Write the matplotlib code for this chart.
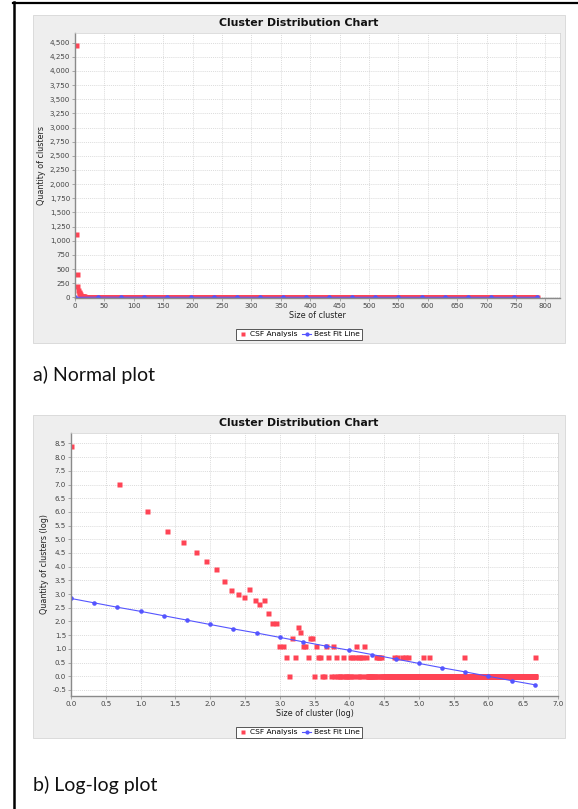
import numpy as np
import matplotlib
matplotlib.use('Agg')
import matplotlib.pyplot as plt
from matplotlib.patches import Rectangle
from matplotlib.lines import Line2D
from matplotlib.ticker import MultipleLocator, FuncFormatter

# cluster sizes 1..40 and how many clusters have that size
head_sizes = [1, 2, 3, 4, 5, 6, 7, 8, 9, 10, 11, 12, 13, 14, 15, 16, 17, 18, 19, 20,
              21, 22, 23, 24, 25, 26, 27, 28, 29, 30, 31, 32, 33, 34, 35, 36, 37, 38, 39, 40]
head_counts = [4450, 1124, 410, 198, 133, 92, 68, 50, 32, 23, 20, 18, 24, 16, 14, 16, 10, 7, 7, 3,
               3, 2, 1, 4, 2, 6, 5, 3, 3, 2, 4, 4, 1, 3, 2, 2, 1, 1, 3, 2]
# larger sizes: most occur once, a few occur twice or three times
tail_twice = [45, 50, 55, 57, 59, 62, 64, 66, 69,
              80, 82, 84, 86, 104, 108, 117, 122, 127, 157, 172, 285, 786]
tail_thrice = [43, 60, 67]
tail_once_run = (42, 784)   # continuous run of sizes seen once

# best fit line points (log-log chart)
fit_log_x = [0.0, 0.333, 0.667, 1.0, 1.333, 1.667, 2.0, 2.333, 2.667, 3.0, 3.333,
             3.667, 4.0, 4.333, 4.667, 5.0, 5.333, 5.667, 6.0, 6.333, 6.667]
fit_log_y = [2.84, 2.68, 2.52, 2.37, 2.21, 2.05, 1.89, 1.73, 1.58, 1.42, 1.26,
             1.10, 0.95, 0.79, 0.63, 0.47, 0.31, 0.16, 0.0, -0.16, -0.31]
# best fit line points (normal chart)
fit_x = [0, 39.3, 78.6, 117.9, 157.2, 196.5, 235.8, 275.1, 314.4, 353.7, 393.0,
         432.3, 471.6, 510.9, 550.2, 589.5, 628.8, 668.1, 707.4, 746.7, 786.0]
fit_y = [0, 3.0, 2.1, 1.8, 1.5, 1.4, 1.3, 1.2, 1.1, 1.0, 1.0,
         0.96, 0.92, 0.89, 0.86, 0.83, 0.81, 0.78, 0.76, 0.74, 0.72]

sizes = list(head_sizes)
counts = list(head_counts)
for s in range(tail_once_run[0], tail_once_run[1] + 1):
    if s in tail_twice or s in tail_thrice:
        continue
    sizes.append(s)
    counts.append(1)
for s in tail_twice:
    sizes.append(s)
    counts.append(2)
for s in tail_thrice:
    sizes.append(s)
    counts.append(3)
sizes = np.array(sizes, dtype=float)
counts = np.array(counts, dtype=float)

RED = '#FF4455'
BLUE = '#5555FF'
W, H = 578, 809

fig = plt.figure(figsize=(W / 100, H / 100), dpi=100)
fig.patch.set_facecolor('white')


def fx(px):
    return px / W


def fy(py):
    return 1 - py / H


# table cell border
fig.add_artist(Line2D([fx(13.5), fx(13.5)], [0, fy(2.3)], color='black', lw=1.8))
fig.add_artist(Line2D([fx(12.6), 1], [fy(3.3), fy(3.3)], color='black', lw=1.6))


def chart(top, bottom, ax_box, title_y, leg_y, xlabel, ylabel):
    fig.add_artist(Rectangle((fx(33), fy(bottom)), fx(565) - fx(33), fy(top) - fy(bottom),
                             transform=fig.transFigure, facecolor='#EEEEEE',
                             edgecolor='#D6D6D6', lw=0.6, zorder=0))
    fig.text(fx(299), fy(title_y), 'Cluster Distribution Chart', ha='center', va='center',
             fontsize=7.9, weight='bold', color='#111111')
    l, t, r, b = ax_box
    ax = fig.add_axes([fx(l), fy(b), fx(r) - fx(l), fy(t) - fy(b)])
    ax.set_facecolor('white')
    for side in ['top', 'right']:
        ax.spines[side].set_color('#D0D0D0')
        ax.spines[side].set_linewidth(0.5)
    for side in ['left', 'bottom']:
        ax.spines[side].set_color('#8A8A8A')
        ax.spines[side].set_linewidth(1.0)
    ax.grid(True, color='#CFCFCF', lw=0.5, ls=(0, (1.5, 1.5)))
    ax.set_axisbelow(True)
    ax.tick_params(length=2, width=0.5, color='#8A8A8A', labelsize=5.1,
                   labelcolor='#444444', pad=1.5)
    ax.set_xlabel(xlabel, fontsize=5.8, color='#222222')
    ax.set_ylabel(ylabel, fontsize=5.8, color='#222222')
    handles = [Line2D([], [], ls='none', marker='s', ms=3, color=RED, mec='none'),
               Line2D([], [], color=BLUE, lw=0.8, marker='o', ms=3, mec='none')]
    leg = fig.legend(handles, ['CSF Analysis', 'Best Fit Line'], loc='center',
                     bbox_to_anchor=(fx(299), fy(leg_y)), ncol=2, fontsize=5.4,
                     frameon=True, fancybox=False, edgecolor='#555555', framealpha=1,
                     borderpad=0.35, handlelength=1.3, handletextpad=0.3,
                     columnspacing=0.5, borderaxespad=0)
    leg.get_frame().set_linewidth(0.7)
    return ax


# a) normal plot
ax1 = chart(15, 343, (75, 33, 560, 298), 23.5, 334.3,
            'Size of cluster', 'Quantity of clusters')
ax1.plot(sizes, counts, ls='none', marker='s', ms=3.6, color=RED, mec='none')
ax1.plot(fit_x, fit_y, color=BLUE, lw=0.8, marker='o', ms=3.3, mec='none')
ax1.set_xlim(0, 825)
ax1.set_ylim(-12, 4670)
ax1.xaxis.set_major_locator(MultipleLocator(50))
ax1.yaxis.set_major_locator(MultipleLocator(250))
ax1.yaxis.set_major_formatter(FuncFormatter(lambda v, p: f'{int(v):,}'))
ax1.xaxis.labelpad = 1.5
ax1.yaxis.labelpad = 2.5

fig.text(fx(33), fy(375), 'a) Normal plot', ha='left', va='center',
         fontsize=14, family='Lato', color='#111111')

# b) log-log plot
ax2 = chart(415, 738, (71, 433, 558, 696), 423.3, 732.3,
            'Size of cluster (log)', 'Quantity of clusters (log)')
ax2.plot(np.log(sizes), np.log(counts), ls='none', marker='s', ms=3.6, color=RED, mec='none')
ax2.plot(fit_log_x, fit_log_y, color=BLUE, lw=0.8, marker='o', ms=3.3, mec='none')
ax2.set_xlim(0, 7.0)
ax2.set_ylim(-0.72, 8.88)
ax2.xaxis.set_major_locator(MultipleLocator(0.5))
ax2.yaxis.set_major_locator(MultipleLocator(0.5))
ax2.xaxis.set_major_formatter(FuncFormatter(lambda v, p: f'{v:.1f}'))
ax2.yaxis.set_major_formatter(FuncFormatter(lambda v, p: f'{v:.1f}'))
ax2.xaxis.labelpad = 1.5
ax2.yaxis.labelpad = 2.5

fig.text(fx(33), fy(785), 'b) Log-log plot', ha='left', va='center',
         fontsize=14, family='Lato', color='#111111')

fig.savefig('out.png', dpi=100)
